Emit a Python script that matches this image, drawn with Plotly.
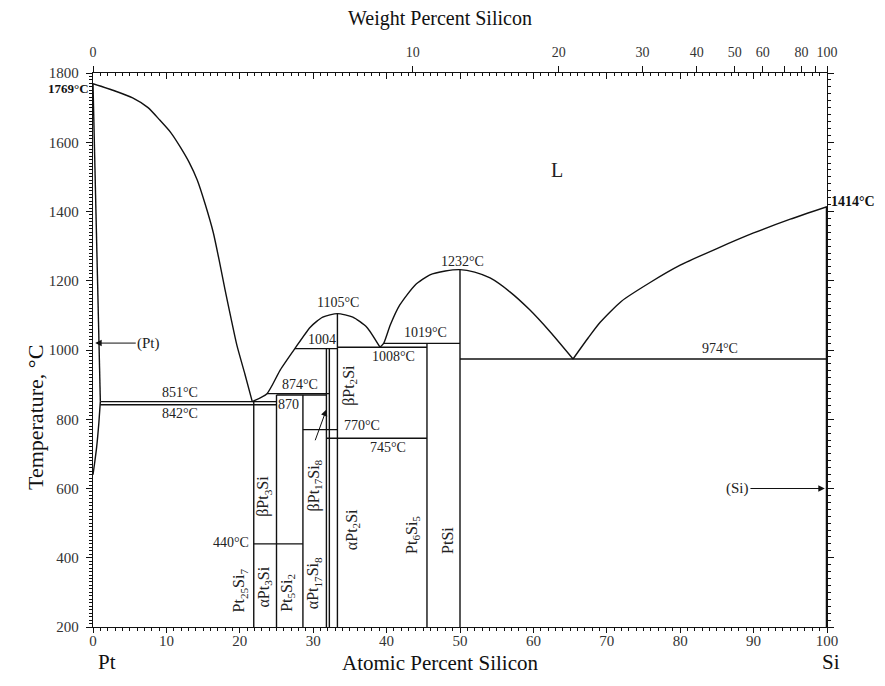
import plotly.graph_objects as go

# ---------------- data (at.% Si, temperature °C) ----------------
liq_pt_x = [0, 3.0, 5.4, 7.5, 9.1, 10.6, 11.9, 13.1, 14.2, 15.3, 16.4, 17.2, 18.0, 18.8, 19.6, 20.7, 21.7]
liq_pt_t = [1769, 1748, 1728, 1700, 1664, 1628, 1586, 1542, 1491, 1420, 1338, 1258, 1173, 1092, 1014, 930, 851]

liq_pt2si_x = [21.7, 23.7, 25.5, 27.5, 29.6, 31.3, 33.3, 35.4, 37.3, 39.1]
liq_pt2si_t = [851, 874, 942, 1004, 1066, 1095, 1105, 1095, 1066, 1008]

liq_ptsi_x = [39.1, 39.6, 40.5, 41.8, 43.9, 45.9, 48.0, 50.0, 52.0, 54.1, 56.8, 59.5, 62.3, 65.4]
liq_ptsi_t = [1008, 1019, 1072, 1130, 1188, 1217, 1228, 1232, 1225, 1208, 1168, 1116, 1052, 974]

liq_si_x = [65.4, 67.5, 69.1, 72.0, 75.9, 80.0, 85.0, 90.0, 95.0, 100.0]
liq_si_t = [974, 1036, 1080, 1141, 1195, 1245, 1293, 1338, 1378, 1414]

sol_pt_x = [0, 1.0]
sol_pt_t = [1769, 851]
solvus_pt_x = [1.0, 0.8, 0.5, 0.2, 0.0]
solvus_pt_t = [851, 790, 720, 670, 640]

# horizontal invariant lines: temperature, x start, x end
iso_t = [851, 842, 874, 870, 1004, 1008, 1019, 974, 770, 745, 440]
iso_x0 = [1.0, 1.0, 23.7, 25.0, 27.5, 33.3, 39.6, 50.0, 28.6, 31.8, 21.9]
iso_x1 = [25.0, 25.0, 32.2, 31.8, 33.3, 45.5, 50.0, 100.0, 33.3, 45.5, 28.6]

# vertical compound lines: composition, bottom, top
vert_x = [21.9, 25.0, 28.6, 31.8, 32.2, 33.3, 45.5, 50.0]
vert_t0 = [200, 200, 200, 200, 200, 200, 200, 200]
vert_t1 = [851, 870, 870, 1004, 1004, 1105, 1019, 1232]

si_sol_x = [100, 100]
si_sol_t = [200, 1414]

# weight-percent tick labels on the top axis
wt_ticks = [0, 10, 20, 30, 40, 50, 60, 70, 80, 90, 100]
wt_labels = ["0", "10", "20", "30", "40", "50", "60", "", "80", "", "100"]
M_SI, M_PT = 28.0855, 195.08


def wt_to_at(w):
    a = w / M_SI
    b = (100 - w) / M_PT
    return 100 * a / (a + b)


wt_pos = [wt_to_at(w) for w in wt_ticks]

# text labels
iso_lbl_text = ["851°C", "842°C", "874°C", "870", "1004", "1008°C", "1019°C", "974°C",
                "770°C", "745°C", "1105°C", "1232°C"]
iso_lbl_x = [11.8, 11.8, 28.2, 26.7, 31.2, 40.9, 45.3, 85.4, 36.6, 40.2, 33.4, 50.3]
iso_lbl_t = [878, 817, 900, 844, 1030, 980, 1050, 1003, 781, 717, 1137, 1257]

phase_text = ["Pt<sub>25</sub>Si<sub>7</sub>", "αPt<sub>3</sub>Si", "βPt<sub>3</sub>Si",
              "Pt<sub>5</sub>Si<sub>2</sub>", "βPt<sub>17</sub>Si<sub>8</sub>",
              "αPt<sub>17</sub>Si<sub>8</sub>", "βPt<sub>2</sub>Si", "αPt<sub>2</sub>Si",
              "Pt<sub>6</sub>Si<sub>5</sub>", "PtSi"]
phase_x = [20.0, 23.4, 23.3, 26.4, 30.2, 30.0, 35.0, 35.3, 43.6, 48.2]
phase_t = [305, 316, 576, 298, 608, 327, 899, 480, 466, 451]

FONT = "Liberation Serif, Times New Roman, serif"
INK = "#111"

fig = go.Figure()


def add_line(xs, ts, w=1.4, smooth=False):
    line = dict(color=INK, width=w)
    if smooth:
        line.update(shape="spline", smoothing=0.6)
    fig.add_trace(go.Scatter(x=xs, y=ts, mode="lines", line=line,
                             hoverinfo="skip", showlegend=False))


add_line(liq_pt_x, liq_pt_t, smooth=True)
add_line(liq_pt2si_x, liq_pt2si_t, smooth=True)
add_line(liq_ptsi_x, liq_ptsi_t, smooth=True)
add_line(liq_si_x, liq_si_t, smooth=True)
add_line(sol_pt_x, sol_pt_t)
add_line(solvus_pt_x, solvus_pt_t, smooth=True)
for t, a, b in zip(iso_t, iso_x0, iso_x1):
    add_line([a, b], [t, t])
for x, a, b in zip(vert_x, vert_t0, vert_t1):
    add_line([x, x], [a, b])
add_line(si_sol_x, si_sol_t, w=2.5)

ann = []
for s, x, t in zip(iso_lbl_text, iso_lbl_x, iso_lbl_t):
    ann.append(dict(x=x, y=t, xref="x", yref="y", text=s, showarrow=False,
                    font=dict(family=FONT, size=14, color="#222")))
for s, x, t in zip(phase_text, phase_x, phase_t):
    ann.append(dict(x=x, y=t, xref="x", yref="y", text=s, showarrow=False, textangle=-90,
                    font=dict(family=FONT, size=16, color="#222")))
ann.append(dict(x=21.5, y=443, xref="x", yref="y", text="440°C", showarrow=False, xanchor="right",
                font=dict(family=FONT, size=14, color="#222")))
ann.append(dict(x=63.2, y=1520, xref="x", yref="y", text="L", showarrow=False,
                font=dict(family=FONT, size=20, color="#222")))
# arrows
ann.append(dict(x=0.3, y=1020, ax=7.6, ay=1020, xref="x", yref="y", axref="x", ayref="y",
                text="(Pt)", showarrow=True, arrowhead=2, arrowsize=1.3, arrowwidth=1,
                arrowcolor=INK, font=dict(family=FONT, size=15, color="#222")))
ann.append(dict(x=99.7, y=600, ax=87.8, ay=600, xref="x", yref="y", axref="x", ayref="y",
                text="(Si)", showarrow=True, arrowhead=2, arrowsize=1.3, arrowwidth=1,
                arrowcolor=INK, font=dict(family=FONT, size=15, color="#222")))
ann.append(dict(x=31.8, y=828, ax=30.2, ay=735, xref="x", yref="y", axref="x", ayref="y",
                text="", showarrow=True, arrowhead=2, arrowsize=1.3, arrowwidth=1,
                arrowcolor=INK))
# melting points
ann.append(dict(x=0, y=1769, xref="paper", yref="y", text="<b>1769°C</b>", showarrow=False,
                xanchor="right", yanchor="middle", xshift=-2, yshift=-5,
                font=dict(family=FONT, size=13, color="#111")))
ann.append(dict(x=1, y=1414, xref="paper", yref="y", text="<b>1414°C</b>", showarrow=False,
                xanchor="left", yanchor="middle", xshift=2, yshift=5,
                font=dict(family=FONT, size=14, color="#111")))
# axis titles
PW, PH = 734.0, 554.0


def px(xp):
    return (xp - 93) / PW


def py(yp):
    return (627 - yp) / PH


ann.append(dict(x=px(35), y=py(418), xref="paper", yref="paper", text="Temperature, °C",
                xanchor="center", yanchor="middle",
                showarrow=False, textangle=-90, font=dict(family=FONT, size=22, color="#111")))
ann.append(dict(x=px(440), y=py(663), xref="paper", yref="paper", text="Atomic Percent Silicon",
                xanchor="center", yanchor="middle",
                showarrow=False, font=dict(family=FONT, size=21, color="#111")))
ann.append(dict(x=px(440), y=py(19), xref="paper", yref="paper", text="Weight Percent Silicon",
                xanchor="center", yanchor="middle",
                showarrow=False, font=dict(family=FONT, size=20, color="#111")))
ann.append(dict(x=px(107), y=py(662), xref="paper", yref="paper", text="Pt",
                xanchor="center", yanchor="middle",
                showarrow=False, font=dict(family=FONT, size=21, color="#111")))
ann.append(dict(x=px(831), y=py(662), xref="paper", yref="paper", text="Si",
                xanchor="center", yanchor="middle",
                showarrow=False, font=dict(family=FONT, size=21, color="#111")))

tickfont = dict(family=FONT, size=15, color="#333")
topfont = dict(family=FONT, size=14, color="#333")
fig.update_layout(
    width=877, height=678,
    margin=dict(l=85, r=58, t=65, b=59, autoexpand=False),
    paper_bgcolor="white", plot_bgcolor="white",
    showlegend=False,
    annotations=ann,
    xaxis=dict(range=[0, 100], tickmode="linear", tick0=0, dtick=10, ticks="outside",
               ticklen=5, tickwidth=1.3, tickcolor=INK, showline=True, linecolor=INK,
               linewidth=1.3, mirror=True, showgrid=False, zeroline=False, tickfont=tickfont,
               automargin=False, ticklabelstandoff=-5,
               minor=dict(dtick=1, ticks="outside", ticklen=3, tickcolor=INK, showgrid=False)),
    xaxis2=dict(range=[0, 100], overlaying="x", side="top", tickmode="array",
                tickvals=wt_pos, ticktext=wt_labels, ticks="outside", ticklen=6,
                tickwidth=1.3, tickcolor=INK, showgrid=False, zeroline=False,
                showline=False, tickfont=topfont, automargin=False, ticklabelstandoff=3),
    xaxis3=dict(range=[0, 100], overlaying="x", side="top", tickmode="linear", tick0=0,
                dtick=10, ticks="inside", ticklen=6, tickwidth=1.3, tickcolor=INK,
                showticklabels=False, showgrid=False, zeroline=False, showline=False,
                automargin=False,
                minor=dict(dtick=1, ticks="inside", ticklen=3, tickcolor=INK, showgrid=False)),
    yaxis=dict(range=[200, 1800], tickmode="linear", tick0=200, dtick=200, ticks="outside",
               ticklen=6, tickwidth=1.3, tickcolor=INK, showline=True, linecolor=INK,
               linewidth=1.3, mirror=True, showgrid=False, zeroline=False, tickfont=tickfont,
               automargin=False, ticklabelstandoff=4,
               minor=dict(dtick=10, ticks="outside", ticklen=3, tickcolor=INK, showgrid=False)),
    yaxis2=dict(range=[200, 1800], overlaying="y", side="right", tickmode="linear", tick0=200,
                dtick=200, ticks="outside", ticklen=6, tickwidth=1.3, tickcolor=INK,
                showticklabels=False, showgrid=False, zeroline=False, showline=False,
                automargin=False,
                minor=dict(dtick=20, ticks="outside", ticklen=3, tickcolor=INK, showgrid=False)),
)
# invisible traces to activate overlay axes
fig.add_trace(go.Scatter(x=[0], y=[200], xaxis="x2", mode="markers", marker=dict(opacity=0),
                         hoverinfo="skip", showlegend=False))
fig.add_trace(go.Scatter(x=[0], y=[200], xaxis="x3", yaxis="y2", mode="markers",
                         marker=dict(opacity=0), hoverinfo="skip", showlegend=False))

fig.write_html("out.html")
